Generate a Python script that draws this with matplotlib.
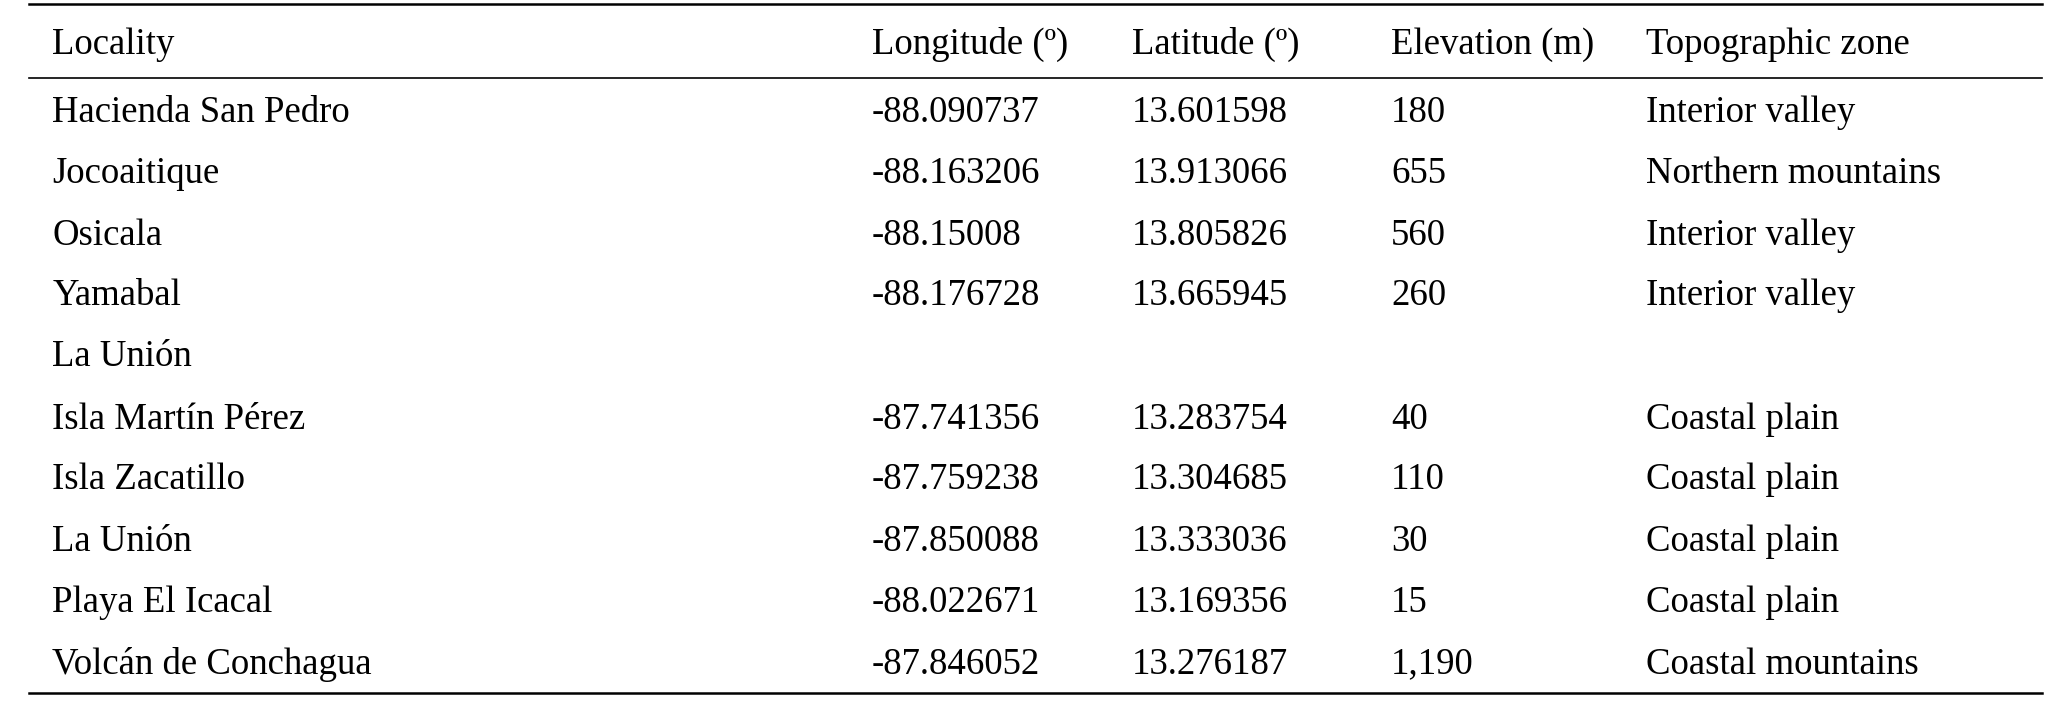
import matplotlib
matplotlib.use("Agg")
import matplotlib.pyplot as plt

headers = ["Locality", "Longitude (º)", "Latitude (º)", "Elevation (m)", "Topographic zone"]
localities = ["Hacienda San Pedro", "Jocoaitique", "Osicala", "Yamabal", "La Unión",
              "Isla Martín Pérez", "Isla Zacatillo", "La Unión", "Playa El Icacal", "Volcán de Conchagua"]
longitudes = ["-88.090737", "-88.163206", "-88.15008", "-88.176728", "",
              "-87.741356", "-87.759238", "-87.850088", "-88.022671", "-87.846052"]
latitudes = ["13.601598", "13.913066", "13.805826", "13.665945", "",
             "13.283754", "13.304685", "13.333036", "13.169356", "13.276187"]
elevations = ["180", "655", "560", "260", "", "40", "110", "30", "15", "1,190"]
zones = ["Interior valley", "Northern mountains", "Interior valley", "Interior valley", "",
         "Coastal plain", "Coastal plain", "Coastal plain", "Coastal plain", "Coastal mountains"]

W, H = 1568, 536
fig = plt.figure(figsize=(20.5, 7.01), dpi=100)
ax = fig.add_axes([0, 0, 1, 1])
ax.set_xlim(0, W); ax.set_ylim(H, 0); ax.axis("off")
plt.rcParams["font.family"] = ["Liberation Serif", "DejaVu Serif"]

colx = [40, 667, 866, 1064, 1259]
fs = 26.5
for x, h in zip(colx, headers):
    ax.text(x, 34, h, fontsize=fs, va="center", ha="left")
cols = [localities, longitudes, latitudes, elevations, zones]
rowy = [86, 133, 180, 226, 273, 321, 367, 414, 461, 508]
for i, y in enumerate(rowy):
    for x, c in zip(colx, cols):
        ax.text(x, y, c[i], fontsize=fs, va="center", ha="left")
for y, lw in [(3, 1.8), (60, 1.2), (530, 1.8)]:
    ax.plot([22, 1562], [y, y], color="black", lw=lw)
fig.savefig("out.png", dpi=100)
